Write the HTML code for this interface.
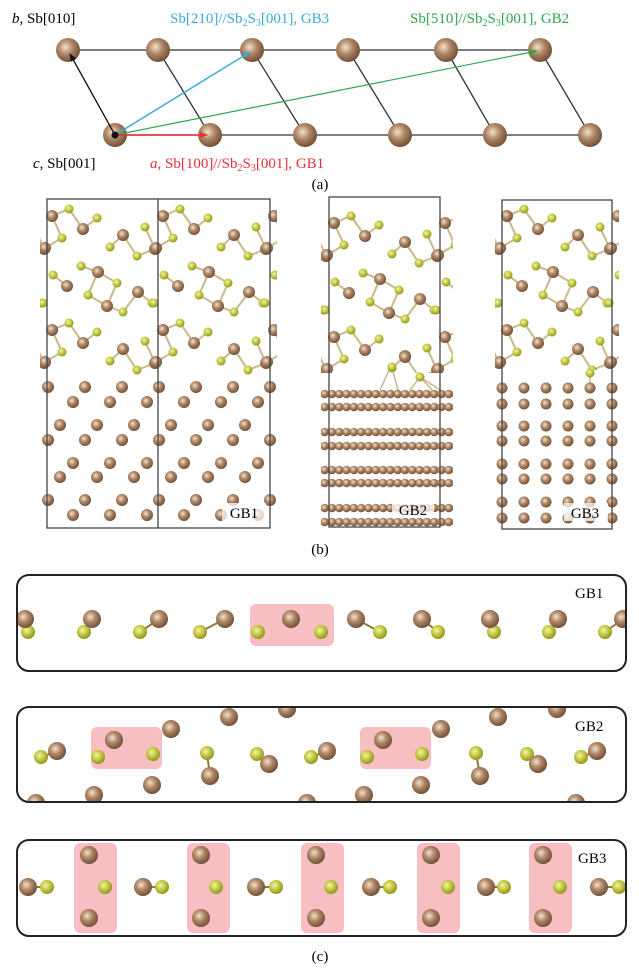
<!DOCTYPE html>
<html><head><meta charset="utf-8"><style>
html,body{margin:0;padding:0;background:#fff;}
svg{display:block;font-family:"Liberation Serif",serif;}
</style></head><body>
<svg width="639" height="977" viewBox="0 0 639 977" xmlns="http://www.w3.org/2000/svg" xmlns:xlink="http://www.w3.org/1999/xlink">
<defs>
<radialGradient id="gb" cx="0.4" cy="0.38" r="0.65"><stop offset="0" stop-color="#f3e2cc"/><stop offset="0.45" stop-color="#b08868"/><stop offset="1" stop-color="#6e4c34"/></radialGradient>
<radialGradient id="gy" cx="0.4" cy="0.38" r="0.65"><stop offset="0" stop-color="#f2f4a8"/><stop offset="0.5" stop-color="#c4c842"/><stop offset="1" stop-color="#8d901e"/></radialGradient>
<marker id="ak" markerWidth="8" markerHeight="8" refX="7" refY="4" orient="auto" markerUnits="userSpaceOnUse"><path d="M0,1 L8,4 L0,7 z" fill="#111"/></marker>
<marker id="ab" markerWidth="8" markerHeight="8" refX="7" refY="4" orient="auto" markerUnits="userSpaceOnUse"><path d="M0,1 L8,4 L0,7 z" fill="#3aaad8"/></marker>
<marker id="ag" markerWidth="8" markerHeight="8" refX="7" refY="4" orient="auto" markerUnits="userSpaceOnUse"><path d="M0,1 L8,4 L0,7 z" fill="#2ea84a"/></marker>
<marker id="ar" markerWidth="8" markerHeight="8" refX="7" refY="4" orient="auto" markerUnits="userSpaceOnUse"><path d="M0,1 L8,4 L0,7 z" fill="#e8303a"/></marker>
<clipPath id="c1"><rect x="40" y="195" width="237" height="185"/></clipPath>
<clipPath id="c2"><rect x="321" y="195" width="132" height="178"/></clipPath>
<clipPath id="c3"><rect x="495" y="195" width="124" height="175"/></clipPath>
<clipPath id="cc1"><rect x="17" y="575" width="609" height="96" rx="12"/></clipPath>
<clipPath id="cc2"><rect x="17" y="707" width="609" height="95" rx="12"/></clipPath>
<clipPath id="cc3"><rect x="17" y="840" width="609" height="96" rx="12"/></clipPath>
<circle id="a12" r="12" fill="url(#gb)"/>
<circle id="b6" r="6" fill="url(#gb)"/>
<circle id="y45" r="4.5" fill="url(#gy)"/>
<circle id="b9" r="9" fill="url(#gb)"/>
<circle id="y7" r="7" fill="url(#gy)"/>
<pattern id="p1" width="37" height="12" patternUnits="userSpaceOnUse"><circle cx="6" cy="6" r="6" fill="url(#gb)"/></pattern>
<pattern id="p2" width="7.3" height="10" patternUnits="userSpaceOnUse"><circle cx="3.65" cy="5" r="4.3" fill="url(#gb)"/></pattern>
<pattern id="p3" width="22" height="12" patternUnits="userSpaceOnUse"><circle cx="6" cy="6" r="5.5" fill="url(#gb)"/></pattern>
<g id="pt">
<path d="M5 17L22 10L36 30L50 19 M5 17L15 39L-2 49 M98 28L108 50L90 57L76 36L63 48 M6 76L20 87 M34 67L51 73L70 84L60 107L41 96L51 73 M60 107L76 113L91 93L105 104 M5 131L22 124L36 144L50 133 M5 131L15 153L-2 163 M98 142L108 164L90 171L76 150L63 162" fill="none" stroke="#c9b98a" stroke-width="2"/>
<use href="#y45" x="22" y="10"/><use href="#y45" x="50" y="19"/><use href="#y45" x="15" y="39"/><use href="#y45" x="63" y="48"/><use href="#y45" x="90" y="57"/><use href="#y45" x="98" y="28"/><use href="#y45" x="6" y="76"/><use href="#y45" x="34" y="67"/><use href="#y45" x="70" y="84"/><use href="#y45" x="41" y="96"/><use href="#y45" x="105" y="104"/><use href="#y45" x="76" y="113"/><use href="#y45" x="-4" y="104"/>
<use href="#y45" x="22" y="124"/><use href="#y45" x="50" y="133"/><use href="#y45" x="15" y="153"/><use href="#y45" x="63" y="162"/><use href="#y45" x="90" y="171"/><use href="#y45" x="98" y="142"/>
<use href="#b6" x="5" y="17"/><use href="#b6" x="36" y="30"/><use href="#b6" x="76" y="36"/><use href="#b6" x="-2" y="49"/><use href="#b6" x="108" y="50"/><use href="#b6" x="51" y="73"/><use href="#b6" x="20" y="87"/><use href="#b6" x="91" y="93"/><use href="#b6" x="60" y="107"/>
<use href="#b6" x="5" y="131"/><use href="#b6" x="36" y="144"/><use href="#b6" x="76" y="150"/><use href="#b6" x="-2" y="163"/><use href="#b6" x="108" y="164"/>
</g>
</defs>

<!-- (a) -->
<g stroke="#333" stroke-width="1.3">
<line x1="68" y1="50" x2="540" y2="50"/><line x1="115" y1="135" x2="590" y2="135"/>
<line x1="158" y1="50" x2="210" y2="135"/><line x1="252" y1="50" x2="305" y2="135"/><line x1="348" y1="50" x2="400" y2="135"/><line x1="446" y1="50" x2="495" y2="135"/><line x1="540" y1="50" x2="590" y2="135"/>
</g>
<use href="#a12" x="68" y="50"/><use href="#a12" x="158" y="50"/><use href="#a12" x="252" y="50"/><use href="#a12" x="348" y="50"/><use href="#a12" x="446" y="50"/><use href="#a12" x="540" y="50"/>
<use href="#a12" x="115" y="135"/><use href="#a12" x="210" y="135"/><use href="#a12" x="305" y="135"/><use href="#a12" x="400" y="135"/><use href="#a12" x="495" y="135"/><use href="#a12" x="590" y="135"/>
<line x1="115" y1="135" x2="70" y2="54" stroke="#111" stroke-width="1.3" marker-end="url(#ak)"/>
<line x1="115" y1="135" x2="250" y2="52" stroke="#3aaad8" stroke-width="1.5" marker-end="url(#ab)"/>
<line x1="115" y1="135" x2="537" y2="51" stroke="#2ea84a" stroke-width="1.2" marker-end="url(#ag)"/>
<line x1="115" y1="135" x2="207" y2="135" stroke="#e8303a" stroke-width="1.5" marker-end="url(#ar)"/>
<circle cx="115" cy="135" r="3.5" fill="#111"/>

<!-- (b) Sb2S3 -->
<g clip-path="url(#c1)"><use href="#pt" x="-64" y="199"/><use href="#pt" x="47" y="199"/><use href="#pt" x="158" y="199"/><use href="#pt" x="269" y="199"/></g>
<g clip-path="url(#c2)"><use href="#pt" x="218" y="206"/><use href="#pt" x="329" y="206"/><use href="#pt" x="440" y="206"/></g>
<g clip-path="url(#c3)"><use href="#pt" x="391" y="199"/><use href="#pt" x="502" y="199"/><use href="#pt" x="613" y="199"/></g>

<!-- GB1 lattice -->
<rect transform="translate(42,381)" width="235" height="12" fill="url(#p1)"/>
<rect transform="translate(67,396)" width="197" height="12" fill="url(#p1)"/>
<rect transform="translate(54,419)" width="197" height="12" fill="url(#p1)"/>
<rect transform="translate(42,434)" width="235" height="12" fill="url(#p1)"/>
<rect transform="translate(67,457)" width="197" height="12" fill="url(#p1)"/>
<rect transform="translate(54,471)" width="197" height="12" fill="url(#p1)"/>
<rect transform="translate(42,494)" width="235" height="12" fill="url(#p1)"/>
<rect transform="translate(67,509)" width="197" height="12" fill="url(#p1)"/>

<!-- GB2 lattice -->
<g stroke="#c9b98a" stroke-width="1.5"><line x1="390" y1="368" x2="380" y2="390"/><line x1="392" y1="368" x2="398" y2="390"/><line x1="420" y1="377" x2="410" y2="390"/><line x1="420" y1="377" x2="432" y2="390"/><line x1="420" y1="377" x2="440" y2="390"/></g>
<use href="#b6" x="405" y="357"/><use href="#y45" x="392" y="367"/><use href="#y45" x="420" y="377"/>
<rect transform="translate(321,389)" width="132" height="10" fill="url(#p2)"/>
<rect transform="translate(321,402)" width="132" height="10" fill="url(#p2)"/>
<rect transform="translate(321,427)" width="132" height="10" fill="url(#p2)"/>
<rect transform="translate(321,441)" width="132" height="10" fill="url(#p2)"/>
<rect transform="translate(321,465)" width="132" height="10" fill="url(#p2)"/>
<rect transform="translate(321,478)" width="132" height="10" fill="url(#p2)"/>
<rect transform="translate(321,503)" width="132" height="10" fill="url(#p2)"/>
<rect transform="translate(321,517)" width="132" height="10" fill="url(#p2)"/>

<!-- GB3 lattice -->
<line x1="590" y1="375" x2="590" y2="388" stroke="#c9b98a" stroke-width="1.5"/><use href="#y45" x="590" y="373"/>
<rect transform="translate(496,382)" width="124" height="12" fill="url(#p3)"/>
<rect transform="translate(496,398)" width="124" height="12" fill="url(#p3)"/>
<rect transform="translate(496,420)" width="124" height="12" fill="url(#p3)"/>
<rect transform="translate(496,435)" width="124" height="12" fill="url(#p3)"/>
<rect transform="translate(496,458)" width="124" height="12" fill="url(#p3)"/>
<rect transform="translate(496,473)" width="124" height="12" fill="url(#p3)"/>
<rect transform="translate(496,496)" width="124" height="12" fill="url(#p3)"/>
<rect transform="translate(496,512)" width="124" height="12" fill="url(#p3)"/>

<g fill="none" stroke="#444" stroke-width="1.3"><rect x="47" y="199" width="223" height="329"/><line x1="158" y1="199" x2="158" y2="528"/><rect x="329" y="197" width="111" height="330"/><rect x="502" y="200" width="110" height="329"/></g>
<g font-size="15"><rect x="222" y="503" width="44" height="18" fill="#fff" opacity="0.75"/><text x="244" y="518" text-anchor="middle">GB1</text><rect x="392" y="500" width="42" height="18" fill="#fff" opacity="0.75"/><text x="413" y="515" text-anchor="middle">GB2</text><rect x="564" y="503" width="44" height="18" fill="#fff" opacity="0.75"/><text x="585" y="518" text-anchor="middle">GB3</text></g>

<!-- (c) GB1 -->
<rect x="250" y="604" width="84" height="42" rx="6" fill="#f7bfc2"/>
<g clip-path="url(#cc1)">
<g stroke="#8a7a3a" stroke-width="2"><line x1="25" y1="619" x2="28" y2="632"/><line x1="92" y1="619" x2="84" y2="632"/><line x1="159" y1="619" x2="140" y2="632"/><line x1="225" y1="619" x2="200" y2="632"/><line x1="356" y1="619" x2="380" y2="632"/><line x1="422" y1="619" x2="438" y2="632"/><line x1="490" y1="619" x2="494" y2="632"/><line x1="558" y1="619" x2="549" y2="632"/><line x1="623" y1="619" x2="605" y2="632"/></g>
<use href="#y7" x="28" y="632"/><use href="#y7" x="84" y="632"/><use href="#y7" x="140" y="632"/><use href="#y7" x="200" y="632"/><use href="#y7" x="258" y="632"/><use href="#y7" x="321" y="632"/><use href="#y7" x="380" y="632"/><use href="#y7" x="438" y="632"/><use href="#y7" x="494" y="632"/><use href="#y7" x="549" y="632"/><use href="#y7" x="605" y="632"/>
<use href="#b9" x="25" y="619"/><use href="#b9" x="92" y="619"/><use href="#b9" x="159" y="619"/><use href="#b9" x="225" y="619"/><use href="#b9" x="291" y="619"/><use href="#b9" x="356" y="619"/><use href="#b9" x="422" y="619"/><use href="#b9" x="490" y="619"/><use href="#b9" x="558" y="619"/><use href="#b9" x="623" y="619"/>
</g>

<!-- GB2 -->
<rect x="91" y="727" width="71" height="42" rx="6" fill="#f7bfc2"/><rect x="360" y="727" width="71" height="42" rx="6" fill="#f7bfc2"/>
<g clip-path="url(#cc2)">
<g stroke="#8a7a3a" stroke-width="2"><line x1="41" y1="757" x2="57" y2="751"/><line x1="207" y1="753" x2="210" y2="776"/><line x1="257" y1="754" x2="269" y2="764"/><line x1="311" y1="757" x2="327" y2="751"/><line x1="476" y1="753" x2="480" y2="776"/><line x1="527" y1="754" x2="538" y2="764"/><line x1="581" y1="757" x2="597" y2="751"/></g>
<use href="#y7" x="41" y="757"/><use href="#y7" x="98" y="757"/><use href="#y7" x="153" y="754"/><use href="#y7" x="207" y="753"/><use href="#y7" x="257" y="754"/><use href="#y7" x="311" y="757"/><use href="#y7" x="367" y="757"/><use href="#y7" x="422" y="754"/><use href="#y7" x="476" y="753"/><use href="#y7" x="527" y="754"/><use href="#y7" x="581" y="757"/>
<use href="#b9" x="57" y="751"/><use href="#b9" x="114" y="740"/><use href="#b9" x="171" y="729"/><use href="#b9" x="229" y="717"/><use href="#b9" x="287" y="709"/><use href="#b9" x="152" y="785"/><use href="#b9" x="94" y="795"/><use href="#b9" x="210" y="776"/><use href="#b9" x="269" y="764"/><use href="#b9" x="327" y="751"/><use href="#b9" x="383" y="740"/><use href="#b9" x="441" y="729"/><use href="#b9" x="498" y="717"/><use href="#b9" x="557" y="709"/><use href="#b9" x="421" y="785"/><use href="#b9" x="364" y="795"/><use href="#b9" x="480" y="776"/><use href="#b9" x="538" y="764"/><use href="#b9" x="597" y="751"/><use href="#b9" x="36" y="803"/><use href="#b9" x="307" y="803"/><use href="#b9" x="576" y="803"/>
</g>

<!-- GB3 -->
<rect x="74" y="843" width="43" height="90" rx="6" fill="#f7bfc2"/><rect x="187" y="843" width="43" height="90" rx="6" fill="#f7bfc2"/><rect x="301" y="843" width="43" height="90" rx="6" fill="#f7bfc2"/><rect x="417" y="843" width="43" height="90" rx="6" fill="#f7bfc2"/><rect x="529" y="843" width="43" height="90" rx="6" fill="#f7bfc2"/>
<g clip-path="url(#cc3)">
<g stroke="#8a7a3a" stroke-width="2"><line x1="28" y1="887" x2="47" y2="887"/><line x1="143" y1="887" x2="162" y2="887"/><line x1="256" y1="887" x2="276" y2="887"/><line x1="371" y1="887" x2="390" y2="887"/><line x1="486" y1="887" x2="504" y2="887"/><line x1="599" y1="887" x2="619" y2="887"/></g>
<use href="#y7" x="47" y="887"/><use href="#y7" x="162" y="887"/><use href="#y7" x="276" y="887"/><use href="#y7" x="390" y="887"/><use href="#y7" x="504" y="887"/><use href="#y7" x="619" y="887"/>
<use href="#b9" x="28" y="887"/><use href="#b9" x="143" y="887"/><use href="#b9" x="256" y="887"/><use href="#b9" x="371" y="887"/><use href="#b9" x="486" y="887"/><use href="#b9" x="599" y="887"/>
<use href="#b9" x="89" y="855"/><use href="#b9" x="89" y="918"/><use href="#y7" x="105" y="887"/>
<use href="#b9" x="201" y="855"/><use href="#b9" x="201" y="918"/><use href="#y7" x="216" y="887"/>
<use href="#b9" x="316" y="855"/><use href="#b9" x="316" y="918"/><use href="#y7" x="331" y="887"/>
<use href="#b9" x="431" y="855"/><use href="#b9" x="431" y="918"/><use href="#y7" x="448" y="887"/>
<use href="#b9" x="543" y="855"/><use href="#b9" x="543" y="918"/><use href="#y7" x="560" y="887"/>
</g>
<g fill="none" stroke="#222" stroke-width="2"><rect x="17" y="575" width="609" height="96" rx="12"/><rect x="17" y="707" width="609" height="95" rx="12"/><rect x="17" y="840" width="609" height="96" rx="12"/></g>

<g font-size="15">
<text x="12" y="23"><tspan font-style="italic">b</tspan>, Sb[010]</text>
<text x="170" y="23" fill="#3aaad8">Sb[210]//Sb<tspan font-size="10" dy="3">2</tspan><tspan dy="-3">S</tspan><tspan font-size="10" dy="3">3</tspan><tspan dy="-3">[001], GB3</tspan></text>
<text x="410" y="23" fill="#2ea84a">Sb[510]//Sb<tspan font-size="10" dy="3">2</tspan><tspan dy="-3">S</tspan><tspan font-size="10" dy="3">3</tspan><tspan dy="-3">[001], GB2</tspan></text>
<text x="33" y="168"><tspan font-style="italic">c</tspan>, Sb[001]</text>
<text x="150" y="168" fill="#e8303a"><tspan font-style="italic">a</tspan>, Sb[100]//Sb<tspan font-size="10" dy="3">2</tspan><tspan dy="-3">S</tspan><tspan font-size="10" dy="3">3</tspan><tspan dy="-3">[001], GB1</tspan></text>
<text x="320" y="189" text-anchor="middle">(a)</text>
<text x="320" y="554" text-anchor="middle">(b)</text>
<text x="320" y="961" text-anchor="middle">(c)</text>
<text x="575" y="598">GB1</text>
<text x="575" y="731">GB2</text>
<text x="578" y="863">GB3</text>
</g>
</svg>
</body></html>
